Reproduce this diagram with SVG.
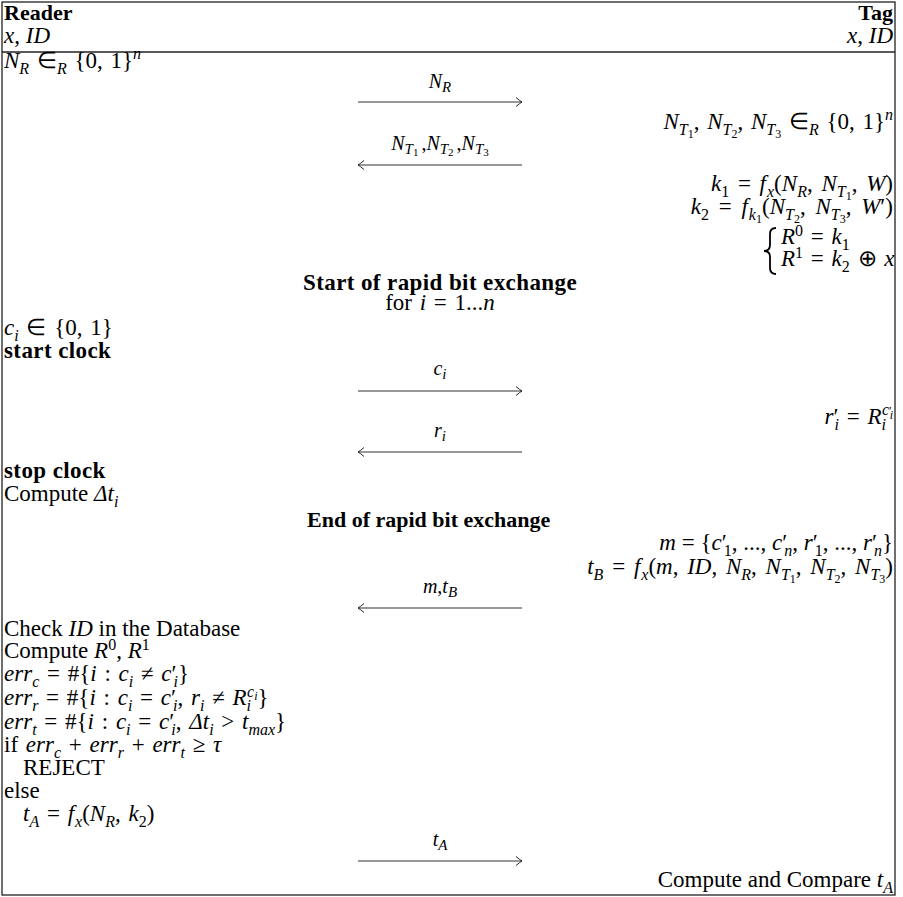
<svg xmlns="http://www.w3.org/2000/svg" width="903" height="897" viewBox="0 0 903 897">
<defs>
<style>
.t{font-family:"Liberation Serif","Times New Roman",serif;font-size:23px;fill:#000}
.m{word-spacing:2px}
.i{font-style:italic}
.b{font-weight:bold;letter-spacing:0.4px}
.h{font-weight:bold;font-size:22px}
.s{font-size:16px}
.ss{font-size:12px}
.l{font-family:"Liberation Serif","Times New Roman",serif;font-size:20px;fill:#000}
.ls{font-size:15px}
.lss{font-size:11px}
.msg{stroke:#333;stroke-width:1.1;fill:none}
.frame{fill:#fff;stroke:#222;stroke-width:1.3}
</style>
<marker id="ah" viewBox="-8 -5 10 10" markerWidth="10" markerHeight="10" refX="0" refY="0" orient="auto" markerUnits="userSpaceOnUse">
<path d="M-6,-4.5 Q-2,-1 0,0 Q-2,1 -6,4.5" fill="none" stroke="#222" stroke-width="1"/>
</marker>
</defs>
<rect width="903" height="897" fill="#fff"/>
<g id="frame">
<rect class="frame" x="2" y="2" width="893" height="893"/>
<line x1="2" y1="52" x2="895" y2="52" stroke="#222" stroke-width="1.3"/>
</g>
<g id="reader-header">
<text class="t h" x="4" y="20">Reader</text>
<text class="t" x="4" y="43"><tspan class="i">x</tspan>, <tspan class="i">ID</tspan></text>
</g>
<g id="tag-header">
<text class="t h" x="893" y="20" text-anchor="end">Tag</text>
<text class="t" x="893" y="43" text-anchor="end"><tspan class="i">x</tspan>, <tspan class="i">ID</tspan></text>
</g>
<g id="reader-nonce">
<text class="t m" x="4" y="68"><tspan class="i">N</tspan><tspan class="s i" dy="6">R</tspan><tspan dy="-6"> ∈</tspan><tspan class="s i" dy="6">R</tspan><tspan dy="-6"> {0, 1}</tspan><tspan class="s i" dy="-9">n</tspan></text>
</g>
<g id="tag-nonces">
<text class="t m" x="893" y="129" text-anchor="end"><tspan class="i">N</tspan><tspan class="s i" dy="6">T</tspan><tspan class="ss" dy="3">1</tspan><tspan dy="-9">, </tspan><tspan class="i">N</tspan><tspan class="s i" dy="6">T</tspan><tspan class="ss" dy="3">2</tspan><tspan dy="-9">, </tspan><tspan class="i">N</tspan><tspan class="s i" dy="6">T</tspan><tspan class="ss" dy="3">3</tspan><tspan dy="-9"> ∈</tspan><tspan class="s i" dy="6">R</tspan><tspan dy="-6"> {0, 1}</tspan><tspan class="s i" dy="-9">n</tspan></text>
</g>
<g id="tag-keys">
<text class="t m" x="893" y="191" text-anchor="end" style="word-spacing:3px"><tspan class="i">k</tspan><tspan class="s" dy="6">1</tspan><tspan dy="-6"> = </tspan><tspan class="i">f</tspan><tspan class="s i" dx="1" dy="6">x</tspan><tspan dy="-6">(</tspan><tspan class="i">N</tspan><tspan class="s i" dy="6">R</tspan><tspan dy="-6">, </tspan><tspan class="i">N</tspan><tspan class="s i" dy="6">T</tspan><tspan class="ss" dy="3">1</tspan><tspan dy="-9">, </tspan><tspan class="i">W</tspan><tspan>)</tspan></text>
<text class="t m" x="893" y="214" text-anchor="end" style="word-spacing:4px"><tspan class="i">k</tspan><tspan class="s" dy="6">2</tspan><tspan dy="-6"> = </tspan><tspan class="i">f</tspan><tspan class="s i" dx="1" dy="6">k</tspan><tspan class="ss" dy="3">1</tspan><tspan dy="-9">(</tspan><tspan class="i">N</tspan><tspan class="s i" dy="6">T</tspan><tspan class="ss" dy="3">2</tspan><tspan dy="-9">, </tspan><tspan class="i">N</tspan><tspan class="s i" dy="6">T</tspan><tspan class="ss" dy="3">3</tspan><tspan dy="-9">, </tspan><tspan class="i">W</tspan><tspan>′)</tspan></text>
<path d="M776,228 Q770,228 770,234 L770,245 Q770,251 764,251 Q770,251 770,257 L770,268 Q770,274 776,274" fill="none" stroke="#000" stroke-width="1.8"/>
<text class="t m" x="781" y="244"><tspan class="i">R</tspan><tspan class="s" dy="-8">0</tspan><tspan dy="8"> = </tspan><tspan class="i">k</tspan><tspan class="s" dy="6">1</tspan></text>
<text class="t m" x="781" y="266"><tspan class="i">R</tspan><tspan class="s" dy="-8">1</tspan><tspan dy="8"> = </tspan><tspan class="i">k</tspan><tspan class="s" dy="6">2</tspan><tspan dy="-6"> ⊕ </tspan><tspan class="i">x</tspan></text>
</g>
<g id="start-rapid">
<text class="t b" x="440" y="290" text-anchor="middle">Start of rapid bit exchange</text>
<text class="t m" x="440" y="310" text-anchor="middle">for <tspan class="i">i</tspan> = 1...<tspan class="i">n</tspan></text>
</g>
<g id="reader-challenge">
<text class="t m" x="4" y="335"><tspan class="i">c</tspan><tspan class="s i" dy="6">i</tspan><tspan dy="-6"> ∈ {0, 1}</tspan></text>
<text class="t b" x="4" y="358">start clock</text>
</g>
<g id="tag-response">
<text class="t m" x="893" y="424" text-anchor="end"><tspan class="i">r</tspan><tspan>′</tspan><tspan class="s i" dx="-4" dy="6">i</tspan><tspan dy="-6"> = </tspan><tspan class="i">R</tspan><tspan class="s i" dy="6">i</tspan><tspan class="s i" dx="-4" dy="-15">c</tspan><tspan class="ss">′</tspan><tspan class="ss i" dx="-2" dy="4">i</tspan></text>
</g>
<g id="reader-stop">
<text class="t b" x="4" y="478">stop clock</text>
<text class="t" x="4" y="501">Compute <tspan class="i">Δt</tspan><tspan class="s i" dy="6">i</tspan></text>
</g>
<g id="end-rapid">
<text class="t" x="307" y="527" style="font-weight:bold;font-size:22px">End of rapid bit exchange</text>
</g>
<g id="tag-transcript">
<text class="t" x="893" y="550" text-anchor="end"><tspan class="i">m</tspan> = {<tspan class="i">c</tspan>′<tspan class="s" dx="-3" dy="6">1</tspan><tspan dy="-6">, ..., </tspan><tspan class="i">c</tspan>′<tspan class="s i" dx="-3" dy="6">n</tspan><tspan dy="-6">, </tspan><tspan class="i">r</tspan>′<tspan class="s" dx="-3" dy="6">1</tspan><tspan dy="-6">, ..., </tspan><tspan class="i">r</tspan>′<tspan class="s i" dx="-3" dy="6">n</tspan><tspan dy="-6">}</tspan></text>
<text class="t m" x="893" y="574" text-anchor="end" style="word-spacing:3px"><tspan class="i">t</tspan><tspan class="s i" dy="6">B</tspan><tspan dy="-6"> = </tspan><tspan class="i">f</tspan><tspan class="s i" dx="1" dy="6">x</tspan><tspan dy="-6">(</tspan><tspan class="i">m</tspan>, <tspan class="i">ID</tspan>, <tspan class="i">N</tspan><tspan class="s i" dy="6">R</tspan><tspan dy="-6">, </tspan><tspan class="i">N</tspan><tspan class="s i" dy="6">T</tspan><tspan class="ss" dy="3">1</tspan><tspan dy="-9">, </tspan><tspan class="i">N</tspan><tspan class="s i" dy="6">T</tspan><tspan class="ss" dy="3">2</tspan><tspan dy="-9">, </tspan><tspan class="i">N</tspan><tspan class="s i" dy="6">T</tspan><tspan class="ss" dy="3">3</tspan><tspan dy="-9">)</tspan></text>
</g>
<g id="reader-verify">
<text class="t" x="4" y="636">Check <tspan class="i">ID</tspan> in the Database</text>
<text class="t" x="4" y="658">Compute <tspan class="i">R</tspan><tspan class="s" dy="-8">0</tspan><tspan dy="8">, </tspan><tspan class="i">R</tspan><tspan class="s" dy="-8">1</tspan></text>
<text class="t m" x="4" y="681"><tspan class="i">err</tspan><tspan class="s i" dy="6">c</tspan><tspan dy="-6"> = #{</tspan><tspan class="i">i</tspan> : <tspan class="i">c</tspan><tspan class="s i" dy="6">i</tspan><tspan dy="-6"> ≠ </tspan><tspan class="i">c</tspan>′<tspan class="s i" dx="-3" dy="6">i</tspan><tspan dy="-6">}</tspan></text>
<text class="t m" x="4" y="705"><tspan class="i">err</tspan><tspan class="s i" dy="6">r</tspan><tspan dy="-6"> = #{</tspan><tspan class="i">i</tspan> : <tspan class="i">c</tspan><tspan class="s i" dy="6">i</tspan><tspan dy="-6"> = </tspan><tspan class="i">c</tspan>′<tspan class="s i" dx="-3" dy="6">i</tspan><tspan dy="-6">, </tspan><tspan class="i">r</tspan><tspan class="s i" dy="6">i</tspan><tspan dy="-6"> ≠ </tspan><tspan class="i">R</tspan><tspan class="s i" dy="6">i</tspan><tspan class="s i" dx="-4" dy="-14">c</tspan><tspan class="ss i" dy="3">i</tspan><tspan dy="5">}</tspan></text>
<text class="t m" x="4" y="729"><tspan class="i">err</tspan><tspan class="s i" dy="6">t</tspan><tspan dy="-6"> = #{</tspan><tspan class="i">i</tspan> : <tspan class="i">c</tspan><tspan class="s i" dy="6">i</tspan><tspan dy="-6"> = </tspan><tspan class="i">c</tspan>′<tspan class="s i" dx="-3" dy="6">i</tspan><tspan dy="-6">, </tspan><tspan class="i">Δt</tspan><tspan class="s i" dy="6">i</tspan><tspan dy="-6"> &gt; </tspan><tspan class="i">t</tspan><tspan class="s i" dy="6">max</tspan><tspan dy="-6">}</tspan></text>
<text class="t m" x="4" y="752">if <tspan class="i">err</tspan><tspan class="s i" dy="6">c</tspan><tspan dy="-6"> + </tspan><tspan class="i">err</tspan><tspan class="s i" dy="6">r</tspan><tspan dy="-6"> + </tspan><tspan class="i">err</tspan><tspan class="s i" dy="6">t</tspan><tspan dy="-6"> ≥ </tspan><tspan class="i">τ</tspan></text>
<text class="t" x="23" y="775">REJECT</text>
<text class="t" x="4" y="798">else</text>
<text class="t m" x="23" y="821"><tspan class="i">t</tspan><tspan class="s i" dy="6">A</tspan><tspan dy="-6"> = </tspan><tspan class="i">f</tspan><tspan class="s i" dx="1" dy="6">x</tspan><tspan dy="-6">(</tspan><tspan class="i">N</tspan><tspan class="s i" dy="6">R</tspan><tspan dy="-6">, </tspan><tspan class="i">k</tspan><tspan class="s" dy="6">2</tspan><tspan dy="-6">)</tspan></text>
</g>
<g id="tag-final">
<text class="t" x="893" y="887" text-anchor="end">Compute and Compare <tspan class="i">t</tspan><tspan class="s i" dy="6">A</tspan></text>
</g>
<g id="connectors">
<line class="msg" x1="358" y1="102" x2="522" y2="102" marker-end="url(#ah)"/>
<text class="l" x="440" y="88" text-anchor="middle"><tspan class="i">N</tspan><tspan class="ls i" dy="4">R</tspan></text>
<line class="msg" x1="522" y1="165" x2="358" y2="165" marker-end="url(#ah)"/>
<text class="l" x="440" y="150" text-anchor="middle"><tspan class="i">N</tspan><tspan class="ls i" dy="4">T</tspan><tspan class="lss" dy="2">1</tspan><tspan dx="3" dy="-6">,</tspan><tspan class="i">N</tspan><tspan class="ls i" dy="4">T</tspan><tspan class="lss" dy="2">2</tspan><tspan dx="3" dy="-6">,</tspan><tspan class="i">N</tspan><tspan class="ls i" dy="4">T</tspan><tspan class="lss" dy="2">3</tspan></text>
<line class="msg" x1="358" y1="391" x2="522" y2="391" marker-end="url(#ah)"/>
<text class="l" x="440" y="375" text-anchor="middle"><tspan class="i">c</tspan><tspan class="ls i" dy="4">i</tspan></text>
<line class="msg" x1="522" y1="452" x2="358" y2="452" marker-end="url(#ah)"/>
<text class="l" x="440" y="437" text-anchor="middle"><tspan class="i">r</tspan><tspan class="ls i" dy="4">i</tspan></text>
<line class="msg" x1="522" y1="608" x2="358" y2="608" marker-end="url(#ah)"/>
<text class="l" x="440" y="593" text-anchor="middle"><tspan class="i">m</tspan>,<tspan class="i">t</tspan><tspan class="ls i" dy="4">B</tspan></text>
<line class="msg" x1="358" y1="861" x2="522" y2="861" marker-end="url(#ah)"/>
<text class="l" x="440" y="846" text-anchor="middle"><tspan class="i">t</tspan><tspan class="ls i" dy="4">A</tspan></text>
</g>
</svg>
